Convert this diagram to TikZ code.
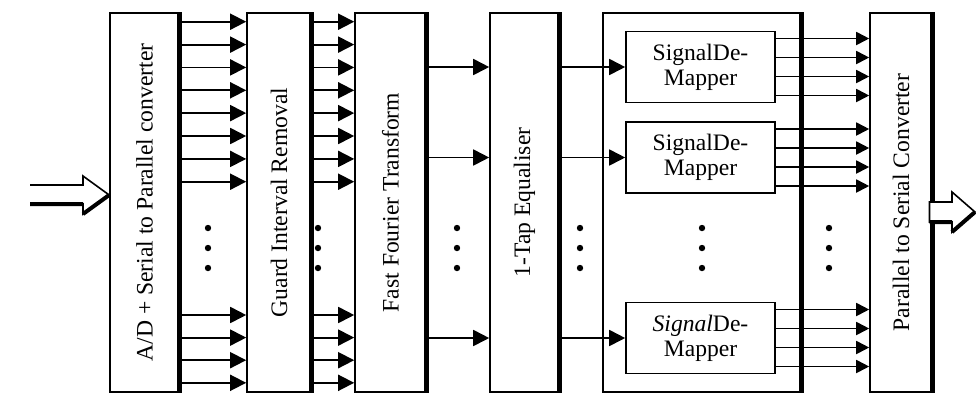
\documentclass[tikz,border=0pt]{standalone}
\usepackage{fontspec}
\setmainfont{Liberation Serif}
\usetikzlibrary{arrows.meta,calc}
\begin{document}
\begin{tikzpicture}[x=0.5pt,y=-0.5pt,
  blk/.style={draw, line width=0.8pt, minimum height=189.5pt, inner sep=0pt, anchor=center},
  dm/.style={draw, line width=0.8pt, minimum width=74.5pt, minimum height=35.5pt, inner sep=0pt, align=center, font=\rmfamily\fontsize{11.8pt}{12.5pt}\selectfont},
  lbl/.style={rotate=90, inner sep=0pt, font=\rmfamily\fontsize{11.8pt}{14pt}\selectfont},
  shade/.style={line width=2.5pt},
  arr/.style={line width=0.9pt, -{Triangle[length=8pt,width=8pt]}},
  sarr/.style={line width=0.9pt, -{Triangle[length=6.5pt,width=6.5pt]}},
  bigarrow/.style={line width=0.8pt, fill=white, line join=miter},
  heavy/.style={line width=2pt}
]
\useasboundingbox (0,0) rectangle (976,393);

% main blocks
\node[blk, minimum width=34.5pt] (b1) at (144.5,202.5) {};
\node[blk, minimum width=32pt]   (b2) at (279,202.5) {};
\node[blk, minimum width=35.5pt] (b3) at (390.5,202.5) {};
\node[blk, minimum width=34.5pt] (b4) at (524.5,202.5) {};
\node[blk, minimum width=99pt]   (c)  at (702,202.5) {};
\node[blk, minimum width=31pt]   (ps) at (901,202.5) {};
\foreach \n in {b1,b2,b3,b4,c,ps} \draw[shade] (\n.north east) -- (\n.south east);

% labels
\node[lbl] (t1) at (b1) {A/D + Serial to Parallel converter};
\node[lbl] (t2) at (b2) {Guard Interval Removal};
\node[lbl] (t3) at (b3) {Fast Fourier Transform};
\node[lbl] (t4) at (b4) {1-Tap Equaliser};
\node[lbl] (t6) at (ps) {Parallel to Serial Converter};

% demappers
\node[dm] (d1) at (700.5,67)    {SignalDe-\\Mapper};
\node[dm] (d2) at (700.5,157.5) {SignalDe-\\Mapper};
\node[dm] (d3) at (700.5,338)   {\textit{Signal}De-\\Mapper};

% parallel lines block 1 -> 2 -> 3
\foreach \y in {21.7,44.6,67.4,90.3,113.1,136.0,158.9,181.7,315,337.6,360.2,382.8} {
  \draw[arr] (b1.east |- 0,\y) -- (b2.west |- 0,\y);
  \draw[arr] (b2.east |- 0,\y) -- (b3.west |- 0,\y);
}

% FFT -> equaliser -> demappers -> P/S
\foreach \d in {d1,d2,d3} {
  \draw[arr] (b3.east |- \d.west) -- (b4.west |- \d.west);
  \draw[arr] (b4.east |- \d.west) -- (\d.west);
  \foreach \o in {-14.25,-4.75,4.75,14.25} {
    \coordinate (o) at ([yshift=\o pt]\d.east);
    \draw[sarr] (o) -- (o -| ps.west);
  }
}

% dots
\foreach \x in {208,318,457,580,702,829}
  \foreach \y in {228,248,268}
    \fill (\x,\y) circle (1.6pt);

% input arrow
\draw[bigarrow] (30,185) -- (83,185) -- (83,176) -- (b1.west |- 0,195) -- (83,214) -- (83,204) -- (30,204);
\draw[heavy] (30,204) -- (83,204) (83,214) -- (b1.west |- 0,195);

% output arrow
\draw[bigarrow] (929.5,202) -- (952,202) -- (952,192) -- (975,212) -- (952,232) -- (952,222) -- (929.5,222) -- cycle;
\draw[heavy] (929.5,222) -- (952,222) (952,232) -- (975,212);
\end{tikzpicture}
\end{document}
